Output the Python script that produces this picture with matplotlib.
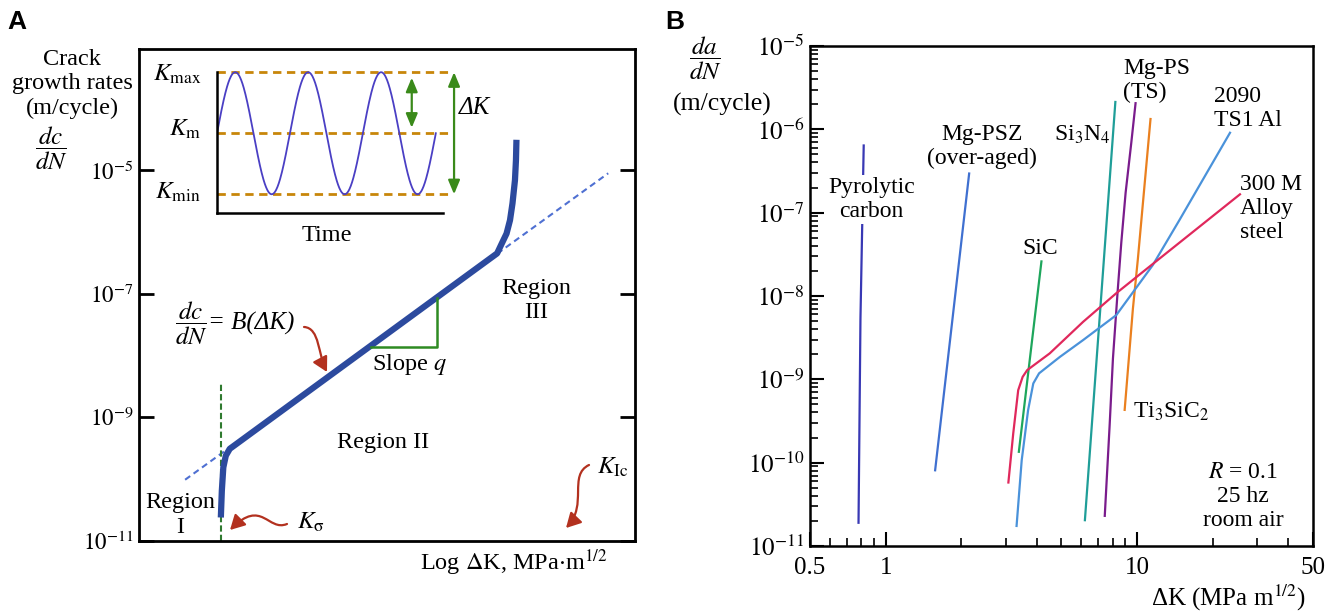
import numpy as np
import matplotlib
matplotlib.use("Agg")
import matplotlib.pyplot as plt
from matplotlib.patches import FancyArrowPatch
from matplotlib.path import Path
from matplotlib.ticker import LogLocator, NullLocator, NullFormatter

plt.rcParams['font.family'] = ['Liberation Serif', 'DejaVu Serif']
plt.rcParams['mathtext.fontset'] = 'stix'

# ---------------- panel A: schematic da/dN curve (x = log dK, arbitrary units)
a_logk = [1.65, 1.67, 1.70, 1.75, 1.83, 7.22, 7.31, 7.41, 7.48, 7.53, 7.58, 7.60, 7.61]
a_rate = [2.4e-11, 6.5e-11, 1.55e-10, 2.4e-10, 3.1e-10, 4.5e-7, 6.4e-7, 9.4e-7,
          1.55e-6, 2.9e-6, 6.9e-6, 1.45e-5, 3.1e-5]
paris_logk = [0.93, 9.46]
paris_rate = [9.8e-11, 8.9e-6]
slope_logk = [4.68, 6.01, 6.01]
slope_rate = [1.4e-8, 1.4e-8, 8.5e-8]
k_th = 1.65
k_th_top = 3.5e-9
a_yticks = [1e-5, 1e-7, 1e-9, 1e-11]
a_ylabels = [r'$10^{-5}$', r'$10^{-7}$', r'$10^{-9}$', r'$10^{-11}$']

# inset: loading cycle
n_cycles = 3
k_min, k_mean, k_max = 0.0, 1.0, 2.0

# ---------------- panel B: measured curves
pyro_dk = [0.818, 0.794, 0.78]
pyro_rate = [6.4e-7, 5.4e-9, 1.9e-11]
psz_dk = [2.15, 1.574]
psz_rate = [2.95e-7, 8.1e-11]
sic_dk = [4.17, 3.39]
sic_rate = [2.6e-8, 1.35e-10]
si3n4_dk = [8.21, 6.21]
si3n4_rate = [2.13e-6, 2.04e-11]
mgps_dk = [9.88, 9.5, 9.02, 8.67, 8.38, 8.03, 7.79, 7.45]
mgps_rate = [2.06e-6, 6.9e-7, 1.74e-7, 4.4e-8, 1.12e-8, 1.78e-9, 2.8e-10, 2.3e-11]
ti_dk = [11.33, 10.09, 9.64, 8.94]
ti_rate = [1.33e-6, 2.77e-8, 7.0e-9, 4.3e-10]
al_dk = [3.32, 3.48, 3.69, 3.87, 4.08, 4.94, 6.11, 8.28, 11.57, 14.77, 23.48]
al_rate = [1.74e-11, 1.07e-10, 4.27e-10, 8.93e-10, 1.18e-9, 1.86e-9, 2.96e-9,
           5.90e-9, 2.35e-8, 8.15e-8, 9.1e-7]
steel_dk = [3.08, 3.22, 3.37, 3.51, 3.66, 4.50, 6.11, 8.28, 10.25, 25.72]
steel_rate = [5.78e-11, 2.24e-10, 7.41e-10, 1.07e-9, 1.29e-9, 2.05e-9, 4.9e-9,
              1.08e-8, 1.81e-8, 1.66e-7]
b_xticks = [0.5, 1, 10, 50]
b_xlabels = ['0.5', '1', '10', '50']
b_yticks = [1e-11, 1e-10, 1e-9, 1e-8, 1e-7, 1e-6, 1e-5]
b_ylabels = [r'$10^{-11}$', r'$10^{-10}$', r'$10^{-9}$', r'$10^{-8}$',
             r'$10^{-7}$', r'$10^{-6}$', r'$10^{-5}$']

fig = plt.figure(figsize=(13.39, 6.12), dpi=100)
W, H = 1339, 612

# ================= panel A
axA = fig.add_axes([139 / W, 71 / H, 496 / W, 492 / H])
axA.set_yscale('log')
axA.set_xlim(0, 10)
axA.set_ylim(1e-11, 10 ** -3.04)
axA.plot(paris_logk, paris_rate, color='#4f70d2', lw=1.5, ls=(0, (3, 2)))
axA.plot([k_th, k_th], [1e-11, k_th_top], color='#2f7a2f', lw=1.5, ls=(0, (3, 1.5)))
axA.plot(a_logk, a_rate, color='#2c4a9e', lw=4.5, solid_capstyle='butt',
         solid_joinstyle='round')
axA.plot(slope_logk, slope_rate, color='#2e8b22', lw=1.8)
axA.set_xticks([])
axA.set_yticks(a_yticks)
axA.set_yticklabels(a_ylabels)
axA.yaxis.set_minor_locator(NullLocator())
axA.tick_params(axis='y', which='major', direction='in', length=11, width=2,
                left=True, right=True, labelsize=16.5, pad=4)
for s in axA.spines.values():
    s.set_linewidth(2)

tA = dict(transform=axA.transAxes, fontsize=17.5, ha='center', va='center',
          linespacing=1.2)
axA.text(0.800, 0.489, 'Region\nIII', **tA)
axA.text(0.492, 0.201, 'Region II', **tA)
axA.text(0.0827, 0.053, 'Region\nI', **tA)
axA.text(0.546, 0.358, r'Slope $q$', **tA)
axA.text(0.3185, 0.037, r'$K_{\mathrm{\sigma}}$', transform=axA.transAxes, fontsize=18,
         ha='left', va='center')
axA.text(0.9234, 0.150, r'$K_{\rm Ic}$', transform=axA.transAxes, fontsize=18,
         ha='left', va='center')
axA.text(0.0726, 0.443, r'$\dfrac{dc}{dN}$', transform=axA.transAxes,
         fontsize=18, ha='left', va='center')
axA.text(0.139, 0.443, '= B(ΔK)', transform=axA.transAxes, style='italic',
         fontsize=18, ha='left', va='center')
axA.text(0.9456, -0.045, r'Log $\Delta$K, MPa$\cdot$m$^{1/2}$', transform=axA.transAxes,
         fontsize=17.5, ha='right', va='center')
axA.text(-0.135, 0.929, 'Crack\ngrowth rates\n(m/cycle)', **tA)
axA.text(-0.1774, 0.799, r'$\dfrac{dc}{dN}$', transform=axA.transAxes, fontsize=18,
         ha='center', va='center')

red = '#b3311f'
for verts in ([(0.3327, 0.435), (0.3649, 0.433), (0.3609, 0.378), (0.379, 0.3435)],
              [(0.2984, 0.0346), (0.2601, 0.0183), (0.248, 0.0874), (0.1835, 0.0224)],
              [(0.9073, 0.1545), (0.8649, 0.1341), (0.9052, 0.0732), (0.8609, 0.0264)]):
    p = Path(verts, [Path.MOVETO, Path.CURVE4, Path.CURVE4, Path.CURVE4])
    arr = FancyArrowPatch(path=p, arrowstyle='-|>,head_length=0.55,head_width=0.3',
                          mutation_scale=16, color=red, lw=1.6,
                          transform=axA.transAxes, clip_on=False)
    axA.add_patch(arr)

# inset
axI = fig.add_axes([217 / W, (H - 213) / H, 248 / W, 153 / H])
axI.set_xlim(0, 3.4)
axI.set_ylim(-0.307, 2.2)
axI.patch.set_alpha(0)
axI.spines['top'].set_visible(False)
axI.spines['right'].set_visible(False)
axI.spines['left'].set_bounds(-0.307, 2.0)
axI.spines['bottom'].set_bounds(0, 3.1)
axI.spines['left'].set_linewidth(1.8)
axI.spines['bottom'].set_linewidth(1.8)
axI.set_xticks([])
axI.set_yticks([])
for lev in (k_min, k_mean, k_max):
    axI.plot([0, 3.2], [lev, lev], color='#c8860a', lw=2, ls=(0, (3, 2)))
t = np.linspace(0, n_cycles, 500)
axI.plot(t, k_mean + (k_max - k_mean) * np.sin(2 * np.pi * t), color='#4a3fc4', lw=1.3)
green = '#3a8a1a'
axI.annotate('', xy=(3.25, k_max), xytext=(3.25, k_min),
             arrowprops=dict(arrowstyle='<|-|>,head_length=0.6,head_width=0.25',
                             color=green, lw=1.6, shrinkA=0, shrinkB=0, mutation_scale=14))
axI.annotate('', xy=(2.67, 1.91), xytext=(2.67, 1.09),
             arrowprops=dict(arrowstyle='<|-|>,head_length=0.6,head_width=0.25',
                             color=green, lw=1.6, shrinkA=0, shrinkB=0, mutation_scale=14))
kI = dict(fontsize=18, ha='right', va='center', clip_on=False)
axI.text(-0.22, 1.97, r'$K_{\rm max}$', **kI)
axI.text(-0.22, 1.07, r'$K_{\rm m}$', **kI)
axI.text(-0.22, 0.03, r'$K_{\rm min}$', **kI)
axI.text(3.32, 1.415, 'ΔK', fontsize=18, style='italic', ha='left', va='center')
axI.text(1.51, -0.67, 'Time', fontsize=17.5, ha='center', va='center')

fig.text(17 / W, 1 - 22 / H, 'A', family='Liberation Sans', weight='bold',
         fontsize=19, ha='center', va='center')

# ================= panel B
axB = fig.add_axes([810 / W, 66 / H, 502.5 / W, 500 / H])
axB.set_xscale('log')
axB.set_yscale('log')
axB.set_xlim(0.5, 50)
axB.set_ylim(1e-11, 1e-5)
series = [(pyro_dk, pyro_rate, '#3838b4'), (psz_dk, psz_rate, '#3f70d0'),
          (sic_dk, sic_rate, '#1ea65c'), (si3n4_dk, si3n4_rate, '#1f9e98'),
          (mgps_dk, mgps_rate, '#7a1c8c'), (ti_dk, ti_rate, '#ea801f'),
          (al_dk, al_rate, '#4a92da'), (steel_dk, steel_rate, '#e0285c')]
for xs, ys, c in series:
    axB.plot(xs, ys, color=c, lw=1.6)

axB.set_xticks(b_xticks)
axB.set_xticklabels(b_xlabels)
axB.set_yticks(b_yticks)
axB.set_yticklabels(b_ylabels)
axB.xaxis.set_minor_locator(LogLocator(base=10, subs=np.arange(2, 10)))
axB.yaxis.set_minor_locator(LogLocator(base=10, subs=np.arange(2, 10)))
axB.xaxis.set_minor_formatter(NullFormatter())
axB.yaxis.set_minor_formatter(NullFormatter())
axB.tick_params(which='both', direction='in', top=False, right=False)
axB.tick_params(which='major', length=10, width=1.5, labelsize=18)
axB.tick_params(which='minor', length=6, width=1.2)
axB.tick_params(axis='x', which='major', pad=8)
axB.tick_params(axis='y', which='major', pad=4)
for s in axB.spines.values():
    s.set_linewidth(1.8)

tB = dict(transform=axB.transAxes, fontsize=17, va='center', linespacing=1.2)
axB.text(0.1224, 0.693, 'Pyrolytic\ncarbon', ha='center',
         bbox=dict(facecolor='white', edgecolor='none', pad=1), **tB)
axB.text(0.3423, 0.799, 'Mg-PSZ\n(over-aged)', ha='center', **tB)
axB.text(0.4577, 0.596, 'SiC', ha='center', **tB)
axB.text(0.5413, 0.822, r'Si$_3$N$_4$', ha='center', **tB)
axB.text(0.6229, 0.931, 'Mg-PS\n(TS)', ha='left', multialignment='left', **tB)
axB.text(0.804, 0.875, '2090\nTS1 Al', ha='left', multialignment='left', **tB)
axB.text(0.8557, 0.675, '300 M\nAlloy\nsteel', ha='left', multialignment='left', **tB)
axB.text(0.6428, 0.268, r'Ti$_3$SiC$_2$', ha='left', **tB)
axB.text(0.8617, 0.0986, '$R$ = 0.1\n25 hz\nroom air', ha='center', **tB)
axB.text(0.8318, -0.104, r'ΔK (MPa m$^{1/2}$)', transform=axB.transAxes, fontsize=18,
         ha='center', va='center')
axB.text(-0.209, 0.976, r'$\dfrac{da}{dN}$', transform=axB.transAxes, fontsize=18,
         ha='center', va='center')
axB.text(-0.175, 0.884, '(m/cycle)', transform=axB.transAxes, fontsize=18.5,
         ha='center', va='center')

fig.text(675 / W, 1 - 22 / H, 'B', family='Liberation Sans', weight='bold',
         fontsize=19, ha='center', va='center')

fig.savefig('out.png', dpi=100)
